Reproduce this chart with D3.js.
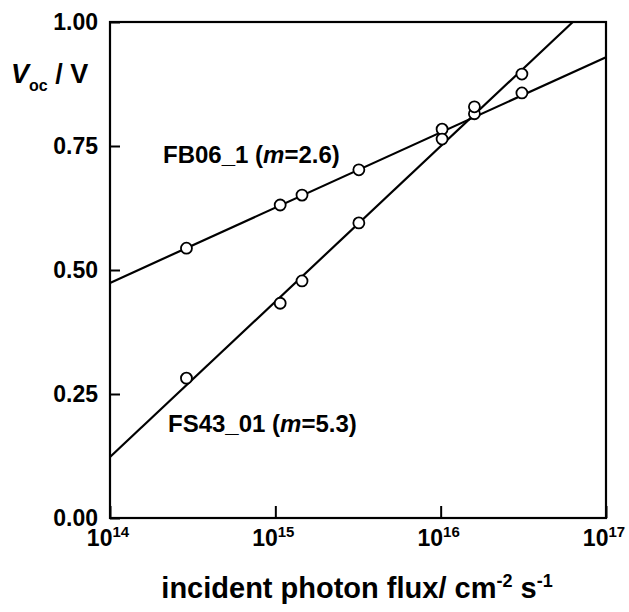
<!DOCTYPE html>
<html><head><meta charset="utf-8">
<script src="https://cdn.jsdelivr.net/npm/d3@7"></script>
<style>body{margin:0;background:#fff;} text{font-family:"Liberation Sans",Arial,sans-serif;font-weight:bold;fill:#000;}</style>
</head><body>
<svg id="c" width="629" height="612"></svg>
<script>
// data
const fluxFB06 = [2.9e14, 1.07e15, 1.45e15, 3.2e15, 1.02e16, 1.6e16, 3.1e16];
const vocFB06  = [0.544, 0.631, 0.651, 0.702, 0.784, 0.815, 0.857];
const fluxFS43 = [2.9e14, 1.07e15, 1.45e15, 3.2e15, 1.02e16, 1.6e16, 3.1e16];
const vocFS43  = [0.282, 0.433, 0.478, 0.595, 0.764, 0.829, 0.895];
const fitFB06Flux = [1e14, 1e17];
const fitFB06Voc  = [0.474, 0.929];
const fitFS43Flux = [1e14, 6.3e16];
const fitFS43Voc  = [0.123, 1.0];
const yTicks = [0, 0.25, 0.5, 0.75, 1.0];
const xTicks = [1e14, 1e15, 1e16, 1e17];
const xTickExp = ["14", "15", "16", "17"];

const svg = d3.select("#c");
const L = 110, R = 606, T = 22, B = 518;
const x = d3.scaleLog().domain([1e14, 1e17]).range([L, R]);
const y = d3.scaleLinear().domain([0, 1]).range([B, T]);

// axes
const ya = svg.append("g").attr("transform", `translate(${L},0)`)
  .call(d3.axisLeft(y).tickValues(yTicks).tickFormat(d3.format(".2f"))
    .tickSizeInner(-10).tickSizeOuter(0).tickPadding(12));
ya.select(".domain").remove();
ya.selectAll("line").attr("stroke", "#000").attr("stroke-width", 2);
ya.selectAll("text").style("font-size", "23px").style("font-family", "Liberation Sans, Arial, sans-serif").style("font-weight", "bold");

const xa = svg.append("g").attr("transform", `translate(0,${B})`)
  .call(d3.axisBottom(x).tickValues(xTicks).tickFormat("")
    .tickSizeInner(-12).tickSizeOuter(0));
xa.select(".domain").remove();
xa.selectAll("line").attr("stroke", "#000").attr("stroke-width", 2);

const xl = svg.append("g");
xTicks.forEach((t, i) => {
  const tx = xl.append("text").attr("x", x(t) - 2).attr("y", B + 28)
    .attr("text-anchor", "middle").style("font-size", "23px");
  tx.append("tspan").text("10");
  tx.append("tspan").attr("dy", -9).style("font-size", "15px").text(xTickExp[i]);
});

// frame
svg.append("rect").attr("x", L).attr("y", T).attr("width", R - L).attr("height", B - T)
  .attr("fill", "none").attr("stroke", "#000").attr("stroke-width", 2.2);

// fit lines
const line = d3.line().x(d => x(d[0])).y(d => y(d[1]));
svg.append("path").datum(d3.zip(fitFB06Flux, fitFB06Voc)).attr("d", line)
  .attr("fill", "none").attr("stroke", "#000").attr("stroke-width", 2.2);
svg.append("path").datum(d3.zip(fitFS43Flux, fitFS43Voc)).attr("d", line)
  .attr("fill", "none").attr("stroke", "#000").attr("stroke-width", 2.2);

// points
[[fluxFB06, vocFB06], [fluxFS43, vocFS43]].forEach(([fx, vy]) => {
  svg.append("g").selectAll("circle").data(d3.zip(fx, vy)).join("circle")
    .attr("cx", d => x(d[0])).attr("cy", d => y(d[1])).attr("r", 5.5)
    .attr("fill", "#fff").attr("stroke", "#000").attr("stroke-width", 1.8);
});

// series labels
function seriesLabel(px, py, name, m) {
  const t = svg.append("text").attr("x", px).attr("y", py).style("font-size", "24px");
  t.append("tspan").text(name + " (");
  t.append("tspan").style("font-style", "italic").text("m");
  t.append("tspan").text("=" + m + ")");
}
seriesLabel(163, 163, "FB06_1", "2.6");
seriesLabel(168, 432, "FS43_01", "5.3");

// y title
const yt = svg.append("text").attr("x", 11).attr("y", 83).style("font-size", "27px");
yt.append("tspan").style("font-style", "italic").text("V");
yt.append("tspan").attr("dy", 8).style("font-size", "16px").text("oc");
yt.append("tspan").attr("dy", -8).text(" / V");

// x title
const xt = svg.append("text").attr("x", 357).attr("y", 598).attr("text-anchor", "middle").style("font-size", "29px");
xt.append("tspan").text("incident photon flux/ cm");
xt.append("tspan").attr("dy", -11).style("font-size", "18px").text("-2");
xt.append("tspan").attr("dy", 11).text(" s");
xt.append("tspan").attr("dy", -11).style("font-size", "18px").text("-1");
</script>
</body></html>
